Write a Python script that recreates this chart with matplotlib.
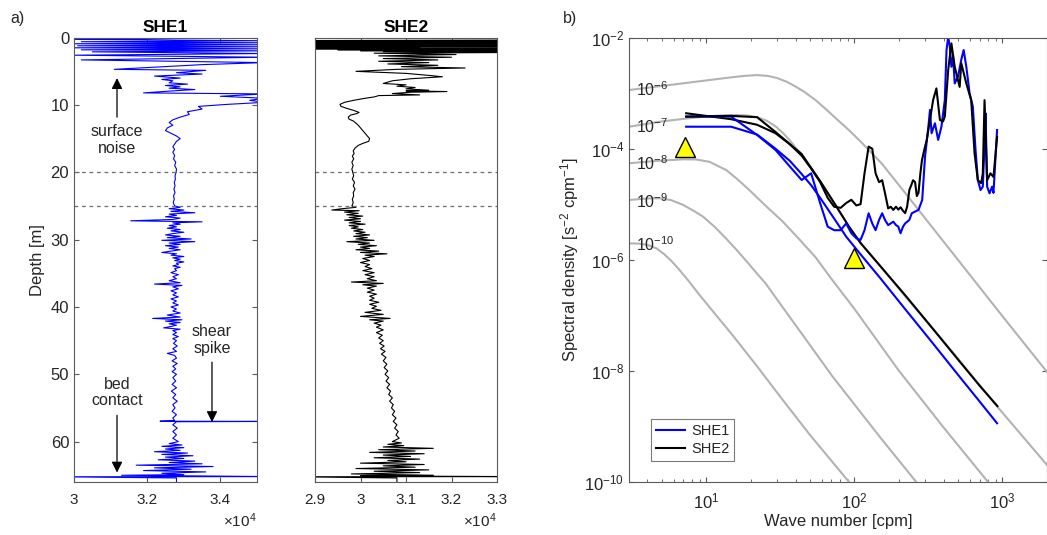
import matplotlib
matplotlib.use("Agg")
import matplotlib.pyplot as plt
from matplotlib.ticker import FixedLocator, FuncFormatter, LogLocator, NullLocator, NullFormatter

plt.rcParams['font.family'] = ['Liberation Sans', 'DejaVu Sans']
plt.rcParams['mathtext.fontset'] = 'custom'
plt.rcParams['mathtext.rm'] = 'Liberation Sans'
plt.rcParams['mathtext.it'] = 'Liberation Sans:italic'
plt.rcParams['mathtext.bf'] = 'Liberation Sans:bold'

TXT = '#262626'
SPINE = '#5a5a5a'

# ---------------- panel a data (values in units of 1e4) ----------------
she1_depth = [0.0, 0.25, 0.45, 0.6, 0.75, 0.9, 1.05, 1.2, 1.35, 1.5, 1.65, 1.8, 1.95, 2.1, 2.35, 2.6, 2.9, 3.3,
              3.7, 4.0, 4.7, 4.85, 5.2, 5.4, 5.7, 6.0, 6.2, 6.4, 6.7, 6.9, 7.1, 7.3, 7.5, 7.7, 7.9, 8.2, 8.35,
              8.7, 9.0, 9.3, 9.6, 9.9, 10.2, 10.6, 11.0, 11.4, 11.8, 12.2, 12.6, 13.0, 13.4, 13.8, 14.2, 14.6,
              15.0, 15.4, 15.8, 16.2, 16.6, 17.0, 17.5, 18.0, 18.5, 19.0, 19.5, 20.0, 20.5, 21.0, 21.5, 22.0,
              22.5, 23.0, 23.5, 24.0, 24.5, 25.0,
              25.2, 25.4, 25.6, 25.8, 26.0, 26.2, 26.4, 26.6, 26.8, 27.0, 27.2, 27.35, 27.5, 27.7, 27.9, 28.1,
              28.3, 28.5, 28.7, 28.9, 29.1, 29.3, 29.5, 29.7, 29.9, 30.1, 30.3, 30.5, 30.7, 30.9, 31.1, 31.3,
              31.5, 31.7, 31.9, 32.1, 32.3, 32.5, 32.7, 32.9, 33.1, 33.3, 33.5, 33.7, 33.9, 34.1, 34.3, 34.6,
              34.9, 35.2, 35.5, 35.8, 36.1, 36.4, 36.6, 36.8, 37.0, 37.3, 37.6, 37.9, 38.2, 38.5, 38.8, 39.1,
              39.4, 39.7, 40.0, 40.3, 40.6, 40.9, 41.2, 41.5, 41.7, 41.9, 42.1, 42.3, 42.5, 42.7, 42.9, 43.1,
              43.3, 43.5, 43.8, 44.1, 44.4, 44.7, 45.0, 45.4, 45.8, 46.2, 46.6, 46.9, 47.2, 47.6, 48.0, 48.4,
              48.8, 49.2, 49.6, 50.0, 50.5, 51.0, 51.5, 52.0, 52.5, 53.0, 53.5, 54.0, 54.5, 55.0, 55.5, 56.0,
              56.5, 56.9, 56.97, 57.0, 57.05, 57.5, 58.0, 58.5, 59.0, 59.5, 60.0, 60.3, 60.5, 60.7, 60.9, 61.1,
              61.3, 61.5, 61.7, 61.9, 62.1, 62.3, 62.5, 62.7, 62.9, 63.1, 63.3, 63.5, 63.7, 63.9, 64.1, 64.3,
              64.5, 64.7, 64.9, 65.0, 65.12, 65.2, 65.22, 65.4, 66.0]
she1_value = [3.52, 3.0, 3.52, 3.02, 3.52, 3.0, 3.52, 3.01, 3.52, 3.0, 3.52, 3.02, 3.52, 3.05, 3.52, 3.0, 3.52, 3.02,
              3.52, 3.35, 3.11, 3.36, 3.28, 3.35, 3.22, 3.29, 3.24, 3.27, 3.26, 3.31, 3.25, 3.29, 3.26, 3.33, 3.27,
              3.19, 3.52, 3.40, 3.52, 3.48, 3.52, 3.42, 3.34, 3.35, 3.31, 3.315, 3.29, 3.27, 3.26, 3.27, 3.255,
              3.25, 3.265, 3.28, 3.29, 3.28, 3.275, 3.27, 3.275, 3.27, 3.275, 3.272, 3.278, 3.275, 3.28, 3.279,
              3.276, 3.277, 3.274, 3.276, 3.273, 3.276, 3.272, 3.274, 3.271, 3.275,
              3.29, 3.26, 3.30, 3.265, 3.33, 3.26, 3.28, 3.25, 3.29, 3.27, 3.155, 3.35, 3.27, 3.29, 3.26, 3.28,
              3.255, 3.29, 3.265, 3.30, 3.27, 3.25, 3.29, 3.255, 3.32, 3.24, 3.33, 3.26, 3.29, 3.25, 3.285, 3.26,
              3.29, 3.265, 3.24, 3.28, 3.265, 3.30, 3.27, 3.29, 3.275, 3.30, 3.28, 3.285, 3.27, 3.29, 3.275, 3.28,
              3.265, 3.285, 3.27, 3.28, 3.26, 3.29, 3.22, 3.295, 3.27, 3.285, 3.265, 3.28, 3.27, 3.285, 3.265, 3.28,
              3.27, 3.285, 3.265, 3.28, 3.27, 3.29, 3.255, 3.29, 3.215, 3.295, 3.25, 3.29, 3.26, 3.28, 3.265, 3.245,
              3.29, 3.27, 3.28, 3.27, 3.285, 3.27, 3.28, 3.272, 3.282, 3.27, 3.28, 3.255, 3.275, 3.28, 3.268, 3.282,
              3.27, 3.278, 3.268, 3.28, 3.27, 3.278, 3.268, 3.28, 3.266, 3.278, 3.27, 3.282, 3.27, 3.276, 3.268, 3.28,
              3.27, 3.275, 3.235, 3.55, 3.28, 3.27, 3.282, 3.27, 3.28, 3.27, 3.285, 3.26, 3.295, 3.24, 3.30, 3.25,
              3.29, 3.22, 3.31, 3.24, 3.325, 3.25, 3.30, 3.23, 3.33, 3.26, 3.35, 3.17, 3.38, 3.22, 3.32, 3.19,
              3.36, 3.24, 3.30, 3.13, 3.38, 3.55, 2.95, 3.28, 3.28]

she2_depth = [0.35, 0.42, 0.49, 0.56, 0.63, 0.70, 0.77, 0.84, 0.91, 0.98, 1.05, 1.12, 1.19, 1.26, 1.33, 1.40,
              1.47, 1.52, 1.58, 1.65, 1.72, 1.79, 1.86, 1.93, 2.0, 2.07, 2.2, 2.3, 2.5, 2.7, 2.9, 3.1, 3.3, 3.5,
              3.7, 3.9, 4.1, 4.3, 4.5, 4.7, 5.0, 5.3, 5.6, 5.8, 6.1, 6.4, 6.8, 7.0, 7.2, 7.4, 7.6, 7.8, 7.9, 8.0,
              8.1, 8.3, 8.5, 8.6, 8.8, 9.0, 9.3, 9.6, 9.9, 10.2, 10.5, 10.8, 11.1, 11.3, 11.5, 11.8, 12.1, 12.4,
              12.7, 13.0, 13.4, 13.8, 14.2, 14.6, 15.0, 15.4, 15.7, 16.0, 16.4, 16.8, 17.2, 17.6, 18.0, 18.5,
              19.0, 19.5, 20.0, 20.5, 21.0, 21.5, 22.0, 22.5, 23.0, 23.5, 24.0, 24.5, 25.0,
              25.2, 25.4, 25.6, 25.7, 25.9, 26.1, 26.3, 26.5, 26.7, 26.9, 27.1, 27.3, 27.5, 27.7, 27.9, 28.1,
              28.3, 28.5, 28.7, 28.9, 29.1, 29.3, 29.5, 29.7, 29.9, 30.1, 30.3, 30.5, 30.7, 30.9, 31.1, 31.3,
              31.5, 31.7, 31.9, 32.1, 32.3, 32.5, 32.8, 33.1, 33.4, 33.7, 34.0, 34.3, 34.6, 34.9, 35.2, 35.5,
              35.8, 36.1, 36.3, 36.5, 36.7, 36.9, 37.2, 37.5, 37.8, 38.1, 38.4, 38.7, 39.0, 39.3, 39.6, 39.9,
              40.2, 40.5, 40.8, 41.1, 41.4, 41.7, 41.9, 42.1, 42.4, 42.7, 43.0, 43.4, 43.8, 44.2, 44.6, 45.0,
              45.4, 45.8, 46.2, 46.6, 47.0, 47.5, 48.0, 48.5, 49.0, 49.5, 50.0, 50.5, 51.0, 51.5, 52.0, 52.5,
              53.0, 53.5, 54.0, 54.5, 55.0, 55.5, 56.0, 56.5, 57.0, 57.5, 58.0, 58.5, 59.0, 59.5, 60.0, 60.2,
              60.4, 60.6, 60.8, 61.0, 61.2, 61.4, 61.6, 61.8, 62.0, 62.2, 62.4, 62.6, 62.8, 63.0, 63.2, 63.4,
              63.6, 63.8, 64.0, 64.2, 64.4, 64.6, 64.8, 65.0, 65.1, 65.2, 65.22, 65.4, 66.0]
she2_value = [3.33, 2.88, 3.33, 2.88, 3.33, 2.88, 3.33, 2.88, 3.33, 2.88, 3.33, 2.88, 3.33, 2.88, 3.33, 2.88,
              3.13, 2.88, 3.33, 2.9, 3.33, 2.95, 3.33, 3.0, 3.33, 3.05, 3.33, 3.03, 3.21, 3.04, 3.20, 3.05, 3.17, 3.04,
              3.15, 3.06, 3.17, 3.09, 3.23, 3.08, 2.99, 3.10, 3.15, 3.18, 3.11, 3.07, 3.05, 3.10, 3.08, 3.12, 3.10, 3.15,
              3.10, 3.19, 3.11, 3.07, 3.13, 3.04, 3.03, 3.01, 2.985, 2.965, 2.955, 2.957, 2.97, 2.985, 2.997, 2.99,
              2.978, 2.973, 2.975, 2.985, 2.99, 2.995, 3.0, 3.005, 3.01, 3.015, 3.02, 3.018, 3.005, 2.995, 2.988,
              2.984, 2.986, 2.982, 2.985, 2.981, 2.984, 2.981, 2.983, 2.985, 2.982, 2.987, 2.984, 2.988, 2.984,
              2.985, 2.982, 2.984, 2.981,
              2.99, 2.96, 2.937, 2.997, 2.965, 2.995, 2.97, 3.005, 2.975, 3.0, 2.965, 3.0, 2.975, 3.01, 2.975, 2.995,
              2.98, 3.005, 2.985, 3.01, 2.99, 3.02, 2.985, 3.015, 2.99, 3.03, 2.97, 3.02, 2.995, 3.035, 3.0, 3.02,
              2.99, 3.04, 3.0, 3.058, 3.01, 3.03, 3.005, 3.02, 3.0, 3.02, 3.01, 3.025, 3.005, 3.03, 3.01, 3.03,
              3.015, 3.035, 2.98, 3.05, 3.005, 3.035, 3.015, 3.03, 3.015, 3.035, 3.02, 3.03, 3.02, 3.04, 3.02, 3.035,
              3.025, 3.045, 3.01, 3.05, 3.0, 3.065, 3.02, 3.05, 3.03, 3.045, 3.035, 3.05, 3.035, 3.048, 3.04, 3.05,
              3.042, 3.052, 3.044, 3.054, 3.046, 3.056, 3.05, 3.058, 3.052, 3.06, 3.054, 3.062, 3.056, 3.064, 3.058, 3.066,
              3.062, 3.07, 3.064, 3.072, 3.068, 3.075, 3.07, 3.078, 3.072, 3.08, 3.075, 3.083, 3.078, 3.085, 3.07, 3.09,
              3.06, 3.095, 3.05, 3.16, 3.04, 3.12, 3.02, 3.14, 3.05, 3.11, 3.03, 3.13, 3.06, 3.10, 3.00, 3.14,
              3.05, 3.12, 2.99, 3.15, 3.03, 3.13, 2.98, 3.16, 3.0, 3.35, 2.85, 3.08, 3.08]

sep_depths = [20, 25]

# ---------------- panel b data ----------------
eps_labels = ['10$^{-6}$', '10$^{-7}$', '10$^{-8}$', '10$^{-9}$', '10$^{-10}$']
g6_k = [3.0, 5.0, 7.0, 10, 14, 18, 22, 26, 30, 35, 40, 46, 54.7, 65, 78, 91.6, 110, 130, 153, 220, 300, 500,
        1000, 2000]
g6_s = [1.14e-3, 1.35e-3, 1.51e-3, 1.7e-3, 1.9e-3, 2.05e-3, 2.12e-3, 2.05e-3, 1.88e-3, 1.6e-3, 1.32e-3,
        1.05e-3, 7.5e-4, 5.0e-4, 3.2e-4, 2.17e-4, 1.35e-4, 8.5e-5, 5.4e-5, 1.6e-5, 5.6e-6, 1.0e-6, 9.6e-8,
        9.5e-9]
g7_k = [3.0, 5.0, 7.35, 10, 13, 16, 19, 22, 25.5, 29.5, 33, 36.7, 40, 44, 50, 58.7, 73, 91.6, 110, 150,
        220, 430, 930, 2000]
g7_s = [2.49e-4, 3.1e-4, 3.5e-4, 3.8e-4, 4.0e-4, 4.05e-4, 3.95e-4, 3.7e-4, 3.2e-4, 2.5e-4, 1.9e-4, 1.4e-4,
        1.05e-4, 8e-5, 4.8e-5, 2.6e-5, 1.05e-5, 4.0e-6, 2.0e-6, 7.6e-7, 2.2e-7, 2.7e-8, 2.2e-9, 2.0e-10]
g8_k = [3.0, 4.5, 6.97, 8.5, 10.5, 13.6, 16, 19.5, 25, 32.7, 42, 54.7, 70, 100, 198, 400, 796, 900]
g8_s = [5.46e-5, 6.0e-5, 6.44e-5, 6.4e-5, 5.8e-5, 4.13e-5, 2.9e-5, 1.8e-5, 9.5e-6, 4.9e-6, 2.4e-6, 1.1e-6,
        4.5e-7, 1.3e-7, 1.03e-8, 9.5e-10, 1e-10, 6.5e-11]
g9_k = [3.0, 4.0, 4.86, 5.8, 6.97, 8.2, 9.5, 11.5, 13.6, 16, 18.6, 22, 25, 32.7, 45, 70.8, 150, 271, 350]
g9_s = [1.19e-5, 1.27e-5, 1.28e-5, 1.18e-5, 9.7e-6, 7.6e-6, 5.96e-6, 3.8e-6, 2.4e-6, 1.5e-6, 9.5e-7,
        5.6e-7, 3.8e-7, 1.4e-7, 4.3e-8, 8e-9, 6.2e-10, 8.8e-11, 4.0e-11]
g10_k = [3.0, 3.5, 4.0, 4.6, 5.2, 5.8, 6.5, 7.5, 9.0, 11, 15.1, 22, 32.7, 50, 91.6, 120]
g10_s = [1.97e-6, 1.95e-6, 1.85e-6, 1.6e-6, 1.25e-6, 9.5e-7, 6.8e-7, 4.3e-7, 2.3e-7, 1.2e-7, 4.3e-8,
         1.2e-8, 3.0e-9, 7e-10, 1e-10, 4e-11]
label_k = 3.35
label_s = [1.25e-3, 2.7e-4, 5.8e-5, 1.2e-5, 2.0e-6]

she1_k = [7.3, 14.7, 22, 29.3, 36.7, 44, 51, 58.7, 66, 73, 80.7, 88, 95.3, 103, 110, 117, 124.7, 132, 139,
          146.7, 154, 161, 169, 176, 183, 191, 198, 205, 213, 220, 235, 244, 271, 287, 300, 316, 324, 332,
          350, 368, 387, 408, 419, 430, 441, 452, 464, 476, 501, 527, 547, 570, 600, 631, 658, 682, 711,
          737, 757, 769, 788, 818, 851, 870, 920]
she1_s = [3.78e-4, 3.78e-4, 1.77e-4, 9.5e-5, 4.74e-5, 2.73e-5, 3.6e-5, 1.04e-5, 3.94e-6, 3.4e-6, 3.4e-6,
          4.5e-6, 3.0e-6, 2.43e-6, 2.27e-6, 3.4e-6, 6.86e-6, 4.5e-6, 3.4e-6, 5.2e-6, 6.86e-6, 5.2e-6, 4.2e-6,
          4.5e-6, 4.85e-6, 4.2e-6, 3.94e-6, 2.99e-6, 3.94e-6, 4.5e-6, 5.2e-6, 6.86e-6, 7.9e-6, 1.19e-5,
          7.2e-5, 2.49e-4, 5e-4, 1.9e-4, 2.87e-4, 1.44e-4, 2.49e-4, 7.5e-4, 6.0e-3, 1.04e-2, 6.9e-3, 3.0e-3,
          4.55e-3, 1.5e-3, 2.0e-3, 4.0e-3, 6.0e-3, 3.0e-3, 1.0e-3, 5.7e-4, 9.5e-5, 2.73e-5, 1.8e-5, 2.07e-5,
          1.25e-4, 4.35e-4, 2.07e-5, 1.57e-5, 2.07e-5, 1.6e-5, 2.17e-4]
she1_fit_k = [7.3, 14.7, 22, 29.3, 36.7, 44, 51, 58.7, 73, 88, 110, 150, 220, 330, 500, 700, 920]
she1_fit_s = [2.49e-4, 2.49e-4, 1.8e-4, 1.0e-4, 6.0e-5, 3.5e-5, 2.2e-5, 1.3e-5, 5.5e-6, 2.6e-6, 1.25e-6,
              4.6e-7, 1.29e-7, 3.4e-8, 8.5e-9, 2.8e-9, 1.13e-9]
she2_k = [7.3, 14.7, 22, 29.3, 36.7, 44, 51, 58.7, 66, 73, 80.7, 88, 95.3, 103, 110, 117, 124.7, 132, 139,
          146.7, 154, 161, 169, 176, 183, 191, 198, 205, 213, 220, 227, 235, 242, 249, 257, 264, 271, 279,
          286, 293, 300, 308, 324, 340, 358, 378, 397, 408, 430, 452, 476, 514, 527, 570, 615, 648, 682,
          718, 737, 757, 788, 829, 870, 920]
she2_s = [3.8e-4, 3.9e-4, 3.7e-4, 2.0e-4, 1.2e-4, 7.5e-5, 4.4e-5, 2.5e-5, 1.3e-5, 9.0e-6, 8.6e-6, 1.05e-5,
          1.2e-5, 9.5e-6, 1.0e-5, 3.6e-5, 1.09e-4, 1.0e-4, 3.6e-5, 2.5e-5, 2.7e-5, 1.57e-5, 8.4e-6, 9.0e-6,
          7.9e-6, 9.0e-6, 8.0e-6, 8.8e-6, 7.6e-6, 6.9e-6, 9.0e-6, 1.8e-5, 2.2e-5, 2.7e-5, 2.5e-5, 1.4e-5,
          1.6e-5, 3.6e-5, 6.25e-5, 8.3e-5, 1.09e-4, 1.44e-4, 3.3e-4, 7.5e-4, 1.22e-3, 3.3e-4, 3.1e-4, 3.8e-4,
          2.6e-3, 7.9e-3, 3.0e-3, 1.3e-3, 3.46e-3, 1.5e-3, 7.5e-4, 8.3e-5, 2.7e-5, 2.4e-5, 3.6e-5, 7.5e-4,
          2.7e-5, 3.6e-5, 3.1e-5, 1.64e-4]
she2_fit_k = [7.3, 14.7, 22, 29.3, 36.7, 44, 58.7, 73, 91.6, 110, 150, 220, 330, 500, 700, 925]
she2_fit_s = [4.35e-4, 3.4e-4, 2.7e-4, 1.9e-4, 1.2e-4, 8e-5, 2.6e-5, 1.05e-5, 4.0e-6, 2.0e-6, 7.6e-7,
              2.3e-7, 6.2e-8, 1.6e-8, 5.4e-9, 2.3e-9]
tri_k = [7.15, 100]
tri_s = [1.09e-4, 1.06e-6]

# ---------------- figure ----------------
fig = plt.figure(figsize=(10.47, 5.35), dpi=100)

def style_axes(ax):
    for sp in ax.spines.values():
        sp.set_color(SPINE)
        sp.set_linewidth(0.8)
    ax.tick_params(which='both', direction='in', top=True, right=True, colors=SPINE,
                   labelcolor=TXT, labelsize=11)

fmt = FuncFormatter(lambda v, p: '%g' % v)

ax1 = fig.add_axes([74/1047, 1-482/535, 183/1047, (482-37.7)/535])
ax1.plot(she1_value, she1_depth, color='#0000ff', lw=0.8)
for d in sep_depths:
    ax1.axhline(d, color='#6e6e6e', lw=0.9, ls=(0, (3, 3)))
ax1.set_xlim(3.0, 3.5)
ax1.set_ylim(66, 0)
ax1.xaxis.set_major_locator(FixedLocator([3.0, 3.2, 3.4]))
ax1.xaxis.set_major_formatter(fmt)
ax1.yaxis.set_major_locator(FixedLocator([0, 10, 20, 30, 40, 50, 60]))
style_axes(ax1)
ax1.tick_params(axis='y', labelsize=12)
ax1.tick_params(axis='x', pad=8)
ax1.set_ylabel('Depth [m]', fontsize=12, color=TXT, labelpad=4)
ax1.set_title('SHE1', fontsize=12.5, fontweight='bold', color='k', pad=4)
ax1.text(1.0, -0.087, r'$\times10^{4}$', transform=ax1.transAxes, ha='right', va='center', fontsize=11, color=TXT)

arrow = dict(arrowstyle='-|>', color='k', lw=0.9, mutation_scale=16, shrinkA=0, shrinkB=0)
ax1.annotate('', xy=(3.1175, 6.0), xytext=(3.1175, 11.8), arrowprops=arrow)
ax1.text(3.1175, 15.2, 'surface\nnoise', ha='center', va='center', fontsize=11.5, color=TXT, linespacing=1.15)
ax1.annotate('', xy=(3.377, 57.1), xytext=(3.377, 48.2), arrowprops=arrow)
ax1.text(3.377, 44.9, 'shear\nspike', ha='center', va='center', fontsize=11.5, color=TXT, linespacing=1.15)
ax1.annotate('', xy=(3.1175, 64.6), xytext=(3.1175, 56.1), arrowprops=arrow)
ax1.text(3.1175, 52.7, 'bed\ncontact', ha='center', va='center', fontsize=11.5, color=TXT, linespacing=1.15)

ax2 = fig.add_axes([315/1047, 1-482/535, 182/1047, (482-37.7)/535])
ax2.plot(she2_value, she2_depth, color='k', lw=0.8)
for d in sep_depths:
    ax2.axhline(d, color='#6e6e6e', lw=0.9, ls=(0, (3, 3)))
ax2.set_xlim(2.9, 3.3)
ax2.set_ylim(66, 0)
ax2.xaxis.set_major_locator(FixedLocator([2.9, 3.0, 3.1, 3.2, 3.3]))
ax2.xaxis.set_major_formatter(fmt)
ax2.yaxis.set_major_locator(NullLocator())
style_axes(ax2)
ax2.tick_params(axis='x', pad=8)
ax2.set_title('SHE2', fontsize=12.5, fontweight='bold', color='k', pad=4)
ax2.text(1.0, -0.087, r'$\times10^{4}$', transform=ax2.transAxes, ha='right', va='center', fontsize=11, color=TXT)

fig.text(10/1047, 1-19/535, 'a)', fontsize=11.5, color=TXT, va='center')
fig.text(563/1047, 1-19/535, 'b)', fontsize=11.5, color=TXT, va='center')

# panel b
ax3 = fig.add_axes([629/1047, 1-481.7/535, 418/1047, (481.7-37.7)/535])
gray = '#b3b3b3'
for gk, gs in [(g6_k, g6_s), (g7_k, g7_s), (g8_k, g8_s), (g9_k, g9_s), (g10_k, g10_s)]:
    ax3.plot(gk, gs, color=gray, lw=1.5, solid_joinstyle='round')
for lab, ls_ in zip(eps_labels, label_s):
    ax3.text(label_k, ls_, lab, fontsize=11.5, color=TXT, ha='left', va='center_baseline')
ax3.plot(she1_fit_k, she1_fit_s, color='#0000ff', lw=1.5)
ax3.plot(she2_fit_k, she2_fit_s, color='k', lw=1.5)
l1, = ax3.plot(she1_k, she1_s, color='#0000ff', lw=1.5, label='SHE1')
l2, = ax3.plot(she2_k, she2_s, color='k', lw=1.5, label='SHE2')
ax3.plot(tri_k, tri_s, ls='none', marker='^', markersize=15, markerfacecolor='#ffff00',
         markeredgecolor='k', markeredgewidth=1.0, zorder=5)
ax3.set_xscale('log')
ax3.set_yscale('log')
ax3.set_xlim(3, 2000)
ax3.set_ylim(1e-10, 1e-2)
ax3.yaxis.set_major_locator(FixedLocator([1e-10, 1e-8, 1e-6, 1e-4, 1e-2]))
ax3.yaxis.set_minor_locator(NullLocator())
ax3.xaxis.set_major_locator(FixedLocator([10, 100, 1000]))
ax3.xaxis.set_minor_locator(LogLocator(base=10, subs=[2, 3, 4, 5, 6, 7, 8, 9]))
ax3.xaxis.set_minor_formatter(NullFormatter())
style_axes(ax3)
ax3.tick_params(axis='both', labelsize=12)
ax3.tick_params(axis='x', pad=7)
ax3.set_xlabel('Wave number [cpm]', fontsize=12, color=TXT, labelpad=2)
ax3.set_ylabel('Spectral density [s$^{-2}$ cpm$^{-1}$]', fontsize=12, color=TXT, labelpad=2)
leg = ax3.legend(handles=[l1, l2], loc='lower left', bbox_to_anchor=(0.035, 0.03), fontsize=10.5,
                 frameon=True, fancybox=False, handlelength=2.0, borderpad=0.35, labelspacing=0.3,
                 handletextpad=0.4)
leg.get_frame().set_edgecolor('#5a5a5a')
leg.get_frame().set_linewidth(0.8)
for t in leg.get_texts():
    t.set_color(TXT)

fig.savefig('out.png', dpi=100)
